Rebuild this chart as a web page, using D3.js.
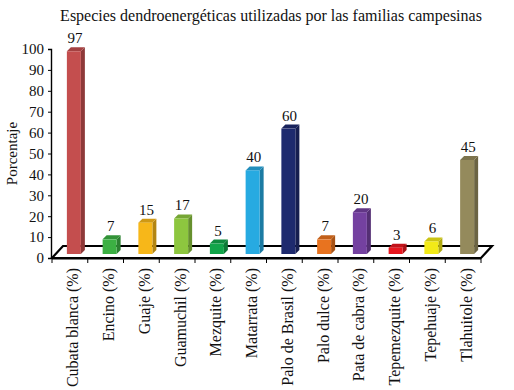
<!DOCTYPE html>
<html>
<head>
<meta charset="utf-8">
<script src="https://cdn.jsdelivr.net/npm/d3@7"></script>
<style>
  body { margin: 0; background: #fff; }
  svg text { font-family: "Liberation Serif", "Times New Roman", Times, "DejaVu Serif", serif; fill: #111; }
</style>
</head>
<body>
<div id="chart"></div>
<script>
const categories = ['Cubata blanca (%)', 'Encino (%)', 'Guaje (%)', 'Guamuchil (%)', 'Mezquite (%)',
  'Matarrata (%)', 'Palo de Brasil (%)', 'Palo dulce (%)', 'Pata de cabra (%)', 'Tepemezquite (%)',
  'Tepehuaje (%)', 'Tlahuitole (%)']
const values = [97, 7, 15, 17, 5, 40, 60, 7, 20, 3, 6, 45]
const yTicks = [0, 10, 20, 30, 40, 50, 60, 70, 80, 90, 100]
const palette = ['#c44e4e', '#3cb043', '#f7b719', '#8dc63f', '#12a54a', '#27aae1',
  '#1e2a6e', '#e8731f', '#7441a0', '#e8171f', '#f2ea18', '#948a5c']
const title = 'Especies dendroenergéticas utilizadas por las familias campesinas'
const yLabel = 'Porcentaje'

const W = 514, H = 390
const m = { left: 52, right: 481, bottom: 258, top: 49 }
const floorDx = 11, floorDy = -12
const barOff = 4, barDepth = 4, barW = 14
const serif = '"Liberation Serif", "Times New Roman", Times, "DejaVu Serif", serif'

const svg = d3.select('#chart').append('svg')
  .attr('width', W).attr('height', H)
  .attr('font-family', serif)

const x = d3.scaleBand().domain(categories).range([m.left, m.right])
const y = d3.scaleLinear().domain([0, 100]).range([m.bottom, m.top])

// title
svg.append('text')
  .attr('x', 271).attr('y', 21)
  .attr('text-anchor', 'middle')
  .style('font-size', '16px')
  .text(title)

// floor
svg.append('path')
  .attr('d', `M${m.left},${m.bottom}L${m.right},${m.bottom}L${m.right + floorDx},${m.bottom + floorDy}L${m.left + floorDx},${m.bottom + floorDy}Z`)
  .attr('fill', '#fff')
  .attr('stroke', '#000')
  .attr('stroke-width', 2.2)

// y axis
svg.append('g')
  .attr('transform', `translate(${m.left - 1},0)`)
  .call(d3.axisLeft(y).tickValues(yTicks).tickSize(3).tickPadding(4))
  .attr('font-family', serif)
  .call((g) => g.select('.domain').attr('stroke', '#000').attr('stroke-width', 1.4))
  .call((g) => g.selectAll('text').style('font-size', '15px'))

// x axis ticks
svg.append('g').selectAll('line')
  .data(categories.concat(['end']))
  .join('line')
  .attr('x1', (d, i) => i < categories.length ? x(d) : m.right)
  .attr('x2', (d, i) => i < categories.length ? x(d) : m.right)
  .attr('y1', m.bottom + 1).attr('y2', m.bottom + 5)
  .attr('stroke', '#000')
svg.append('line')
  .attr('x1', m.left).attr('x2', m.right)
  .attr('y1', m.bottom + 1).attr('y2', m.bottom + 1)
  .attr('stroke', '#000').attr('stroke-width', 1)

// x labels
svg.append('g').selectAll('text')
  .data(categories)
  .join('text')
  .attr('transform', (d) => `translate(${x(d) + x.bandwidth() / 2 + 3},${m.bottom + 10}) rotate(-90)`)
  .attr('text-anchor', 'end')
  .attr('dy', '0.35em')
  .style('font-size', '16px')
  .text((d) => d)

// bars
const bars = svg.append('g').selectAll('g')
  .data(categories.map((c, i) => ({ c, v: values[i], col: palette[i] })))
  .join('g')
  .attr('transform', `translate(${barOff},${-barOff})`)

bars.each(function (d) {
  const g = d3.select(this)
  const x0 = x(d.c) + (x.bandwidth() - barW) / 2
  const x1 = x0 + barW
  const yt = y(d.v)
  const c = d3.color(d.col)
  // side face
  g.append('path')
    .attr('d', `M${x1},${m.bottom}L${x1},${yt}L${x1 + barDepth},${yt - barDepth}L${x1 + barDepth},${m.bottom - barDepth}Z`)
    .attr('fill', c.darker(0.9))
  // top face
  g.append('path')
    .attr('d', `M${x0},${yt}L${x0 + barDepth},${yt - barDepth}L${x1 + barDepth},${yt - barDepth}L${x1},${yt}Z`)
    .attr('fill', c.darker(0.5))
  // front face
  g.append('rect')
    .attr('x', x0).attr('y', yt)
    .attr('width', barW).attr('height', m.bottom - yt)
    .attr('fill', c)
  g.append('text')
    .attr('x', x0 + barW / 2 + 1)
    .attr('y', yt - 8)
    .attr('text-anchor', 'middle')
    .style('font-size', '15px')
    .text(d.v)
})

// axis title
svg.append('text')
  .attr('transform', `translate(17,${(m.top + m.bottom) / 2}) rotate(-90)`)
  .attr('text-anchor', 'middle')
  .style('font-size', '15px')
  .text(yLabel)
</script>
</body>
</html>
